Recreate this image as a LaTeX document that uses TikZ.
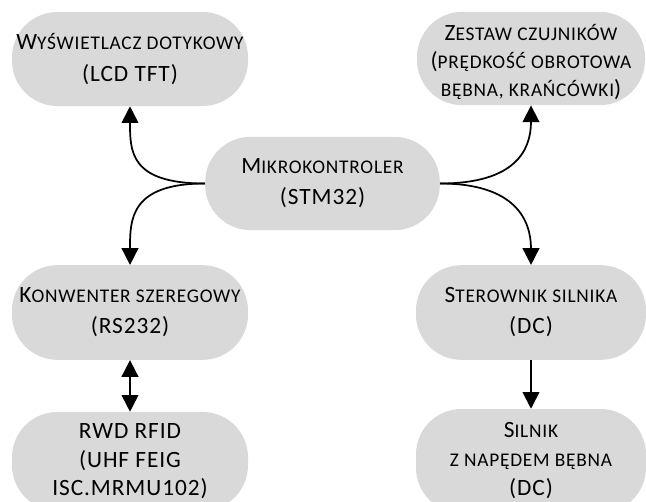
\documentclass[tikz,border=0pt]{standalone}
\usepackage{fontspec}
\setmainfont{Carlito}[LetterSpace=4]
\usetikzlibrary{arrows.meta}
\definecolor{boxgray}{RGB}{217,217,217}
\newcommand\sm[1]{{\fontsize{14.5}{14.5}\selectfont #1}}
\tikzset{
  box/.style={fill=boxgray, draw=none, rounded corners=34pt, align=center,
    inner sep=0pt, font=\fontsize{17.5}{24}\selectfont},
  conn/.style={line width=1.3pt, -{Triangle[length=12.5pt,width=12.5pt]}},
  biconn/.style={line width=1.3pt, {Triangle[length=12.5pt,width=12.5pt]}-{Triangle[length=12.5pt,width=12.5pt]}}
}
\begin{document}
\begin{tikzpicture}[x=0.75pt,y=-0.75pt]
\clip (0,0) rectangle (646,501);
\node[box, minimum width=177pt, minimum height=70.5pt] (tl) at (130,59)
  {W\sm{YŚWIETLACZ DOTYKOWY}\\(LCD TFT)};
\node[box, minimum width=171pt, minimum height=70pt, font=\fontsize{17.5}{21}\selectfont] (tr) at (531,58.5)
  {\rule{0pt}{17pt}Z\sm{ESTAW CZUJNIKÓW}\\(\sm{PRĘDKOŚĆ OBROTOWA}\\\sm{BĘBNA, KRAŃCÓWKI})};
\node[box, minimum width=176pt, minimum height=70pt, font=\fontsize{17.5}{23.25}\selectfont] (c) at (322.5,183.5)
  {M\sm{IKROKONTROLER}\\(STM32)};
\node[box, minimum width=177pt, minimum height=71pt, font=\fontsize{17.5}{23.25}\selectfont] (ml) at (130,312.5)
  {K\sm{ONWENTER SZEREGOWY}\\(RS232)};
\node[box, minimum width=172.5pt, minimum height=71pt, font=\fontsize{17.5}{23.25}\selectfont] (mr) at (531,312.5)
  {S\sm{TEROWNIK SILNIKA}\\(DC)};
\node[box, minimum width=177pt, minimum height=74pt, font=\fontsize{17.5}{21.5}\selectfont] (bl) at (130,461.3)
  {RWD RFID\\(UHF FEIG\\ISC.MRMU102)};
\node[box, minimum width=172.5pt, minimum height=78pt, font=\fontsize{17.5}{21.75}\selectfont] (br) at (531,461)
  {S\sm{ILNIK}\\\sm{Z NAPĘDEM BĘBNA}\\(DC)};
\draw[conn] (c.west) .. controls +(-75,0) and +(0,45) .. (tl.south);
\draw[conn] (c.west) .. controls +(-75,0) and +(0,-45) .. (ml.north);
\draw[conn] (c.east) .. controls +(75,0) and +(0,45) .. (tr.south);
\draw[conn] (c.east) .. controls +(75,0) and +(0,-45) .. (mr.north);
\draw[biconn] (ml.south) -- (bl.north);
\draw[conn] (mr.south) -- (br.north);
\end{tikzpicture}
\end{document}
